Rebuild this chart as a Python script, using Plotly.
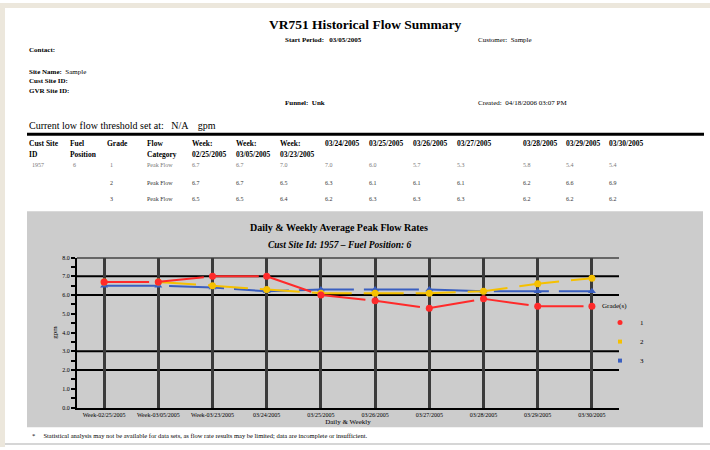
import plotly.graph_objects as go

# ---------------- data ----------------
dates = ["02/25/2005", "03/05/2005", "03/23/2005", "03/24/2005", "03/25/2005",
         "03/26/2005", "03/27/2005", "03/28/2005", "03/29/2005", "03/30/2005"]
weekly = [True, True, True, False, False, False, False, False, False, False]
x_labels = [("Week-" + d if w else d) for d, w in zip(dates, weekly)]

grades = ["1", "2", "3"]
grade1 = [6.7, 6.7, 7.0, 7.0, 6.0, 5.7, 5.3, 5.8, 5.4, 5.4]
grade2 = [6.7, 6.7, 6.5, 6.3, 6.1, 6.1, 6.1, 6.2, 6.6, 6.9]
grade3 = [6.5, 6.5, 6.4, 6.2, 6.3, 6.3, 6.3, 6.2, 6.2, 6.2]
series = [grade1, grade2, grade3]
colors = ["#ff2a2a", "#f5c000", "#3a5fc0"]
symbols = ["circle", "circle", "triangle-up"]
dashes = ["45px,10px", "40px,12px", "55px,10px"]

y_ticks = [0, 1, 2, 3, 4, 5, 6, 7, 8]
h_grid = [8, 7, 6, 3, 2]

cust_site = "1957"
fuel_pos = "6"
flow_cat = "Peak Flow"

# ---------------- helpers ----------------
W, H = 710, 450
FONT = "Liberation Serif"


def px(x):
    return x / W


def py(y):
    return 1 - y / H


fig = go.Figure()

# traces (draw grade 3 first so grade 1 is on top)
for i in [2, 1, 0]:
    fig.add_trace(go.Scatter(
        x=x_labels, y=series[i], mode="lines+markers", name=grades[i],
        line=dict(color=colors[i], width=2, dash=dashes[i]),
        marker=dict(color=colors[i], size=7, symbol=symbols[i]),
        showlegend=False))

# legend-only entries (markers only)
for i in range(3):
    fig.add_trace(go.Scatter(
        x=[None], y=[None], mode="markers", name=grades[i],
        marker=dict(color=colors[i], size=5 if i == 0 else 4, symbol="circle" if i == 0 else "square"),
        showlegend=True))

shapes = []
# page frame
shapes.append(dict(type="rect", xref="paper", yref="paper", x0=0, x1=1, y0=py(0), y1=py(5),
                   fillcolor="#ece7dc", line=dict(width=0), layer="below"))
shapes.append(dict(type="rect", xref="paper", yref="paper", x0=0, x1=px(5), y0=py(450), y1=py(0),
                   fillcolor="#ece7dc", line=dict(width=0), layer="below"))
shapes.append(dict(type="line", xref="paper", yref="paper", x0=px(5), x1=1, y0=py(447), y1=py(447),
                   line=dict(color="#d6d6d6", width=2), layer="below"))
# thick table line
shapes.append(dict(type="line", xref="paper", yref="paper", x0=px(27), x1=px(704), y0=py(133), y1=py(133),
                   line=dict(color="black", width=3)))
# gray chart panel
shapes.append(dict(type="rect", xref="paper", yref="paper", x0=px(27), x1=px(703), y0=py(430), y1=py(211),
                   fillcolor="#cccccc", line=dict(width=0), layer="below"))
# horizontal grid lines
for g in h_grid:
    shapes.append(dict(type="line", xref="paper", yref="y", x0=px(77), x1=px(619), y0=g, y1=g,
                       line=dict(color="black", width=2), layer="below"))

ann = []


def text(x, y, s, size=7, bold=False, italic=False, color="black", xanchor="left", fam=FONT):
    if bold:
        s = "<b>" + s + "</b>"
    if italic:
        s = "<i>" + s + "</i>"
    ann.append(dict(x=px(x), y=py(y), xref="paper", yref="paper", text=s, showarrow=False,
                    xanchor=xanchor, yanchor="middle", font=dict(family=fam, size=size, color=color)))


# header
text(365, 22, "VR751 Historical Flow Summary", size=13.5, bold=True, xanchor="center")
text(283, 38, "Start Period:   03/05/2005", size=7, bold=True)
text(476, 38, "Customer:  Sample", size=7)
text(27, 48, "Contact:", size=7, bold=True)
text(27, 70, "Site Name:  <span style='font-weight:normal'>Sample</span>", size=7, bold=True)
text(27, 79, "Cust Site ID:", size=7, bold=True)
text(27, 89, "GVR Site ID:", size=7, bold=True)
text(283, 101, "Funnel:  Unk", size=7, bold=True)
text(476, 101, "Created:  04/18/2006 03:07 PM", size=7)
text(27, 124, "Current low flow threshold set at:   N/A    gpm", size=10)

# table header
col_x = [27, 68, 105, 145, 190, 234, 278, 323, 367, 411, 455, 521, 564, 607]
head1 = ["Cust Site", "Fuel", "Grade", "Flow"] + [("Week:" if w else d) for d, w in zip(dates, weekly)]
head2 = ["ID", "Position", "", "Category"] + [(d if w else "") for d, w in zip(dates, weekly)]
for x, s in zip(col_x, head1):
    text(x, 142, s, size=7.5, bold=True)
for x, s in zip(col_x, head2):
    if s:
        text(x, 154, s, size=7.5, bold=True)

row_y = [164, 182, 199]
for r, (g, vals) in enumerate(zip(grades, series)):
    c = "#777777" if r == 0 else "#333333"
    if r == 0:
        text(col_x[0] + 3, row_y[r], cust_site, size=6, color=c)
        text(col_x[1] + 3, row_y[r], fuel_pos, size=6, color=c)
    text(col_x[2] + 3, row_y[r], g, size=6, color=c)
    text(col_x[3], row_y[r], flow_cat, size=6, color=c)
    for x, v in zip(col_x[4:], vals):
        text(x, row_y[r], f"{v:.1f}", size=6, color=c)

# chart titles
text(339, 228, "Daily &amp; Weekly Average Peak Flow Rates", size=10, bold=True, xanchor="center")
text(340, 245, "Cust Site Id: 1957 \u2013 Fuel Position: 6", size=9.5, bold=True, italic=True, xanchor="center")

# footnote
text(30, 438, "*&nbsp;&nbsp;&nbsp;&nbsp;&nbsp;Statistical analysis may not be available for data sets, as flow rate results may be limited; data are incomplete or insufficient.", size=6.5)

fig.update_layout(
    width=W, height=H, autosize=False,
    margin=dict(l=0, r=0, t=0, b=0),
    paper_bgcolor="white", plot_bgcolor="rgba(0,0,0,0)",
    font=dict(family=FONT, color="black"),
    shapes=shapes, annotations=ann,
    legend=dict(x=px(600), y=py(300), xanchor="left", yanchor="top",
                bgcolor="rgba(0,0,0,0)", font=dict(size=7, family=FONT),
                title=dict(text="Grade(s)", font=dict(size=7, family=FONT)),
                itemwidth=30, tracegroupgap=0),
    xaxis=dict(domain=[px(77), px(619)], type="category", range=[-0.5, 9.5],
               showgrid=True, gridcolor="#3a3a3a", gridwidth=2.5,
               showline=True, linecolor="black", linewidth=2,
               ticks="", tickfont=dict(size=6, family=FONT), tickangle=0,
               title=dict(text="Daily &amp; Weekly", font=dict(size=7, family=FONT), standoff=0),
               zeroline=False),
    yaxis=dict(domain=[py(410), py(258)], range=[0, 8], tickvals=y_ticks,
               tickformat=".1f", showgrid=False, zeroline=False,
               showline=True, linecolor="black", linewidth=2,
               ticks="outside", ticklen=4, tickwidth=2, tickcolor="black",
               minor=dict(dtick=0.5, ticks="outside", ticklen=4, tickwidth=2, tickcolor="black"),
               tickfont=dict(size=6, family=FONT),
               title=dict(text="gpm", font=dict(size=7, family=FONT), standoff=4)),
)

fig.write_html("out.html", config={"displayModeBar": False},
               post_script="document.body.style.margin='0';document.body.style.overflow='hidden';")
